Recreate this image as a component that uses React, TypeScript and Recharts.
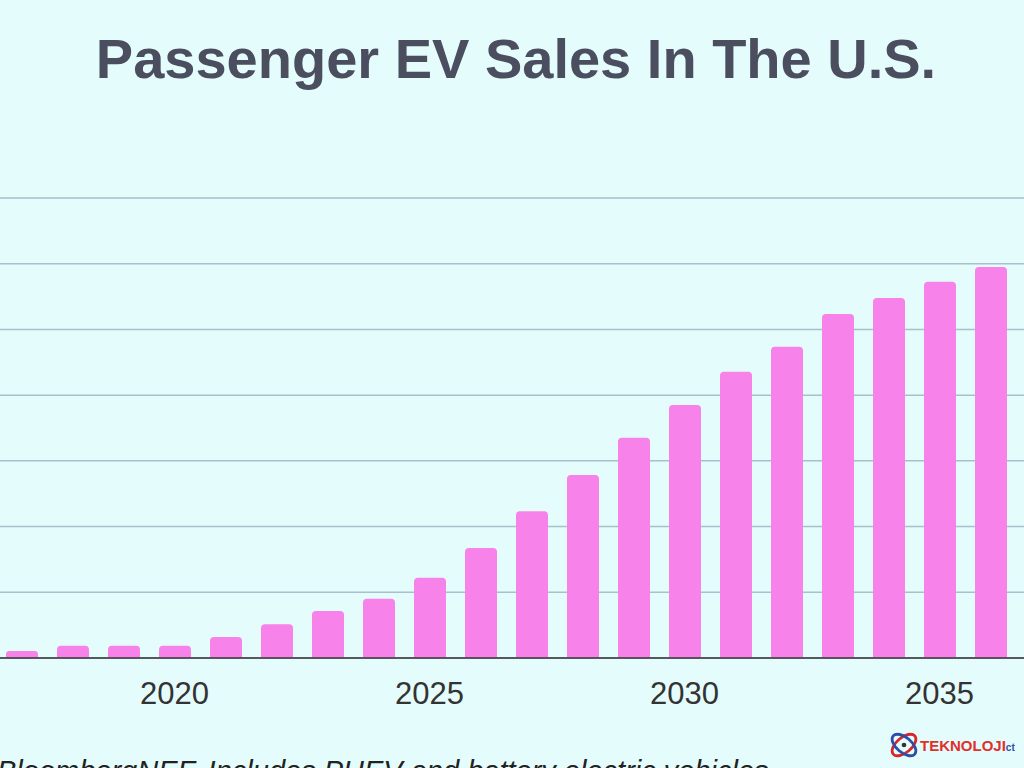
import React from 'react';
import { BarChart, Bar, XAxis, YAxis, CartesianGrid } from 'recharts';

// passenger EV sales, millions
const years = ['2017', '2018', '2019', '2020', '2021', '2022', '2023', '2024', '2025', '2026',
  '2027', '2028', '2029', '2030', '2031', '2032', '2033', '2034', '2035', '2036'];
const sales = [0.21, 0.37, 0.37, 0.37, 0.64, 1.03, 1.43, 1.8, 2.44, 3.35,
  4.47, 5.57, 6.7, 7.7, 8.71, 9.47, 10.47, 10.96, 11.45, 11.9];
const yTicks = [0, 2, 4, 6, 8, 10, 12, 14];
const labelEvery = 5;

const data = years.map((year, i) => ({ year, sales: sales[i] }));

const BG = '#e4fcfb';
const BAR = '#f782e9';

export default function App() {
  return (
    <div style={{ position: 'absolute', left: 0, top: 0, width: 1024, height: 768, overflow: 'hidden', background: BG, fontFamily: '"Liberation Sans", Arial, sans-serif' }}>
      <div style={{ position: 'absolute', left: 0, top: 31, width: 1032, textAlign: 'center', fontSize: 56, lineHeight: '56px', fontWeight: 700, color: '#4b4e5e' }}>
        Passenger EV Sales In The U.S.
      </div>

      <BarChart
        width={1060}
        height={760}
        data={data}
        margin={{ top: 198, right: 0, left: 0, bottom: 42 }}
        style={{ position: 'absolute', left: -4, top: 0 }}
        barCategoryGap={0}
      >
        <CartesianGrid vertical={false} stroke="#a9bfcc" strokeWidth={1.5} />
        <YAxis hide domain={[0, 14]} ticks={yTicks} />
        <XAxis
          dataKey="year"
          height={60}
          interval={0}
          padding={{ left: 0, right: 40 }}
          tickLine={false}
          tickMargin={18}
          axisLine={{ stroke: '#333', strokeWidth: 1.5 }}
          tick={{ fontSize: 31, fill: '#333' }}
          tickFormatter={(v: string) => (Number(v) % labelEvery === 0 ? v : '')}
        />
        <Bar dataKey="sales" fill={BAR} barSize={32} radius={[4, 4, 0, 0]} isAnimationActive={false} />
      </BarChart>

      <div style={{ position: 'absolute', left: -3, top: 757, fontSize: 29, lineHeight: '29px', fontStyle: 'italic', color: '#222', whiteSpace: 'nowrap' }}>
        BloombergNEF. Includes PHEV and battery electric vehicles.
      </div>

      <div style={{ position: 'absolute', left: 888, top: 729, display: 'flex', alignItems: 'center', whiteSpace: 'nowrap' }}>
        <svg width={32} height={32} viewBox="0 0 34 34">
          <ellipse cx={17} cy={17} rx={15} ry={8} fill="none" stroke="#d9262b" strokeWidth={3} transform="rotate(-40 17 17)" />
          <ellipse cx={17} cy={17} rx={15} ry={8} fill="none" stroke="#2b4fa8" strokeWidth={3} transform="rotate(40 17 17)" />
          <circle cx={17} cy={17} r={2.5} fill="#333" />
        </svg>
        <span style={{ fontSize: 15, fontWeight: 700, color: '#e0302a' }}>TEKNOLOJI</span>
        <span style={{ fontSize: 10, fontWeight: 700, color: '#2b4fa8', marginTop: 4 }}>ct</span>
      </div>
    </div>
  );
}
